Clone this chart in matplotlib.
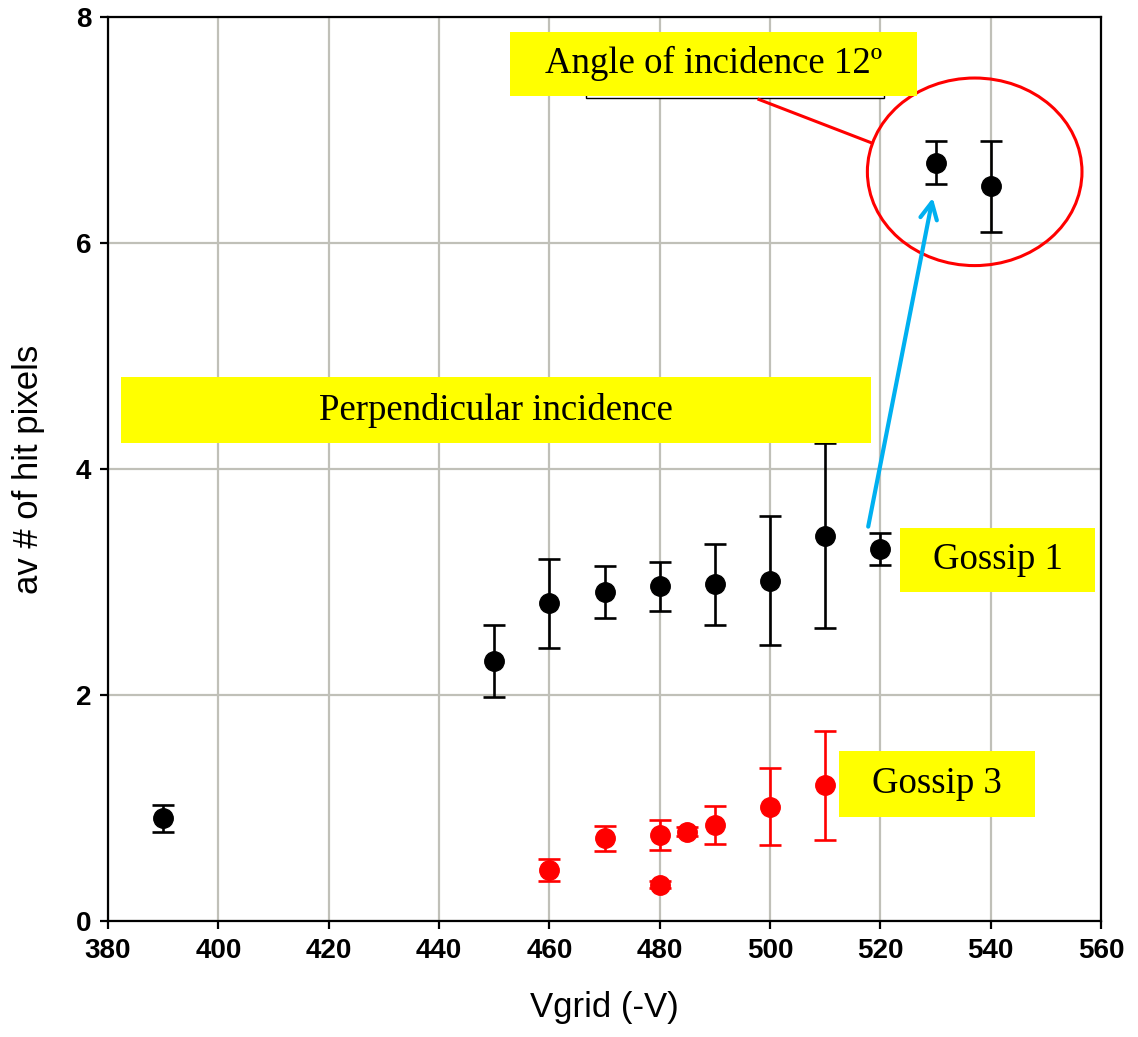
import numpy as np
import matplotlib.pyplot as plt
from matplotlib.patches import Ellipse, Rectangle

# Gossip 1 (black) data
g1_v = [390, 450, 460, 470, 480, 490, 500, 510, 520, 530, 540]
g1_hits = [0.91, 2.30, 2.81, 2.91, 2.96, 2.98, 3.01, 3.41, 3.29, 6.71, 6.50]
g1_err = [0.12, 0.32, 0.39, 0.23, 0.22, 0.36, 0.57, 0.82, 0.14, 0.19, 0.40]

# Gossip 3 (red) data
g3_v = [460, 470, 480, 480, 485, 490, 500, 510]
g3_hits = [0.45, 0.73, 0.76, 0.32, 0.79, 0.85, 1.01, 1.20]
g3_err = [0.10, 0.11, 0.13, 0.03, 0.04, 0.17, 0.34, 0.48]

x_ticks = np.arange(380, 561, 20)
y_ticks = [0, 2, 4, 6, 8]

serif = 'Liberation Serif'
sans = 'Liberation Sans'

fig = plt.figure(figsize=(11.38, 10.37), dpi=100)
ax = fig.add_axes([0.0949, 0.1119, 0.8726, 0.8717])

# error bar points
ax.errorbar(g1_v, g1_hits, yerr=g1_err, fmt='o', color='black', ms=14,
            capsize=8, elinewidth=1.9, capthick=1.9, zorder=5)
ax.errorbar(g3_v, g3_hits, yerr=g3_err, fmt='o', color='red', ms=14,
            capsize=8, elinewidth=1.9, capthick=1.9, zorder=5)

ax.set_xlim(380, 560)
ax.set_ylim(0, 8)
ax.set_xticks(x_ticks)
ax.set_yticks(y_ticks)
ax.grid(True, color='#c0c0b8', linewidth=1.6)
ax.set_axisbelow(True)
for s in ax.spines.values():
    s.set_linewidth(1.6)
    s.set_zorder(10)
ax.tick_params(direction='out', length=6, width=1.6, pad=6)
for lab in ax.get_xticklabels() + ax.get_yticklabels():
    lab.set_fontfamily(sans)
    lab.set_fontweight('bold')
    lab.set_fontsize(20)

ax.set_xlabel('Vgrid (-V)', fontfamily=sans, fontsize=25, labelpad=20)
ax.set_ylabel('av # of hit pixels', fontfamily=sans, fontsize=25, labelpad=22)

# leftover white box behind the angle label
ax.add_patch(Rectangle((466.7, 7.28), 53.9, 0.35, facecolor='white',
                       edgecolor='black', lw=1, zorder=6))

# red callout line and ellipse
ax.plot([498.0, 518.2], [7.27, 6.89], color='red', lw=2.2, zorder=6)
ax.add_patch(Ellipse((537.1, 6.63), 38.9, 1.66, fill=False,
                     edgecolor='red', lw=2.2, zorder=6))

# blue arrow
ax.annotate('', xy=(529.5, 6.40), xytext=(517.8, 3.49),
            arrowprops=dict(arrowstyle='->', color='#00b0f0', lw=3,
                            mutation_scale=30, shrinkA=0, shrinkB=0),
            zorder=7)

# yellow text boxes
def yellow_box(x0, x1, y0, y1, text, size):
    ax.add_patch(Rectangle((x0, y0), x1 - x0, y1 - y0, facecolor='#ffff00',
                           edgecolor='none', zorder=8))
    ax.text((x0 + x1) / 2, (y0 + y1) / 2, text, ha='center', va='center',
            fontfamily=serif, fontsize=size, zorder=9)

yellow_box(452.9, 526.6, 7.30, 7.87, 'Angle of incidence 12º', 26.5)
yellow_box(382.4, 518.3, 4.23, 4.81, 'Perpendicular incidence', 26.5)
yellow_box(523.5, 559.0, 2.91, 3.48, 'Gossip 1', 26.5)
yellow_box(512.5, 548.0, 0.92, 1.50, 'Gossip 3', 26.5)

fig.savefig('out.png', dpi=100)
